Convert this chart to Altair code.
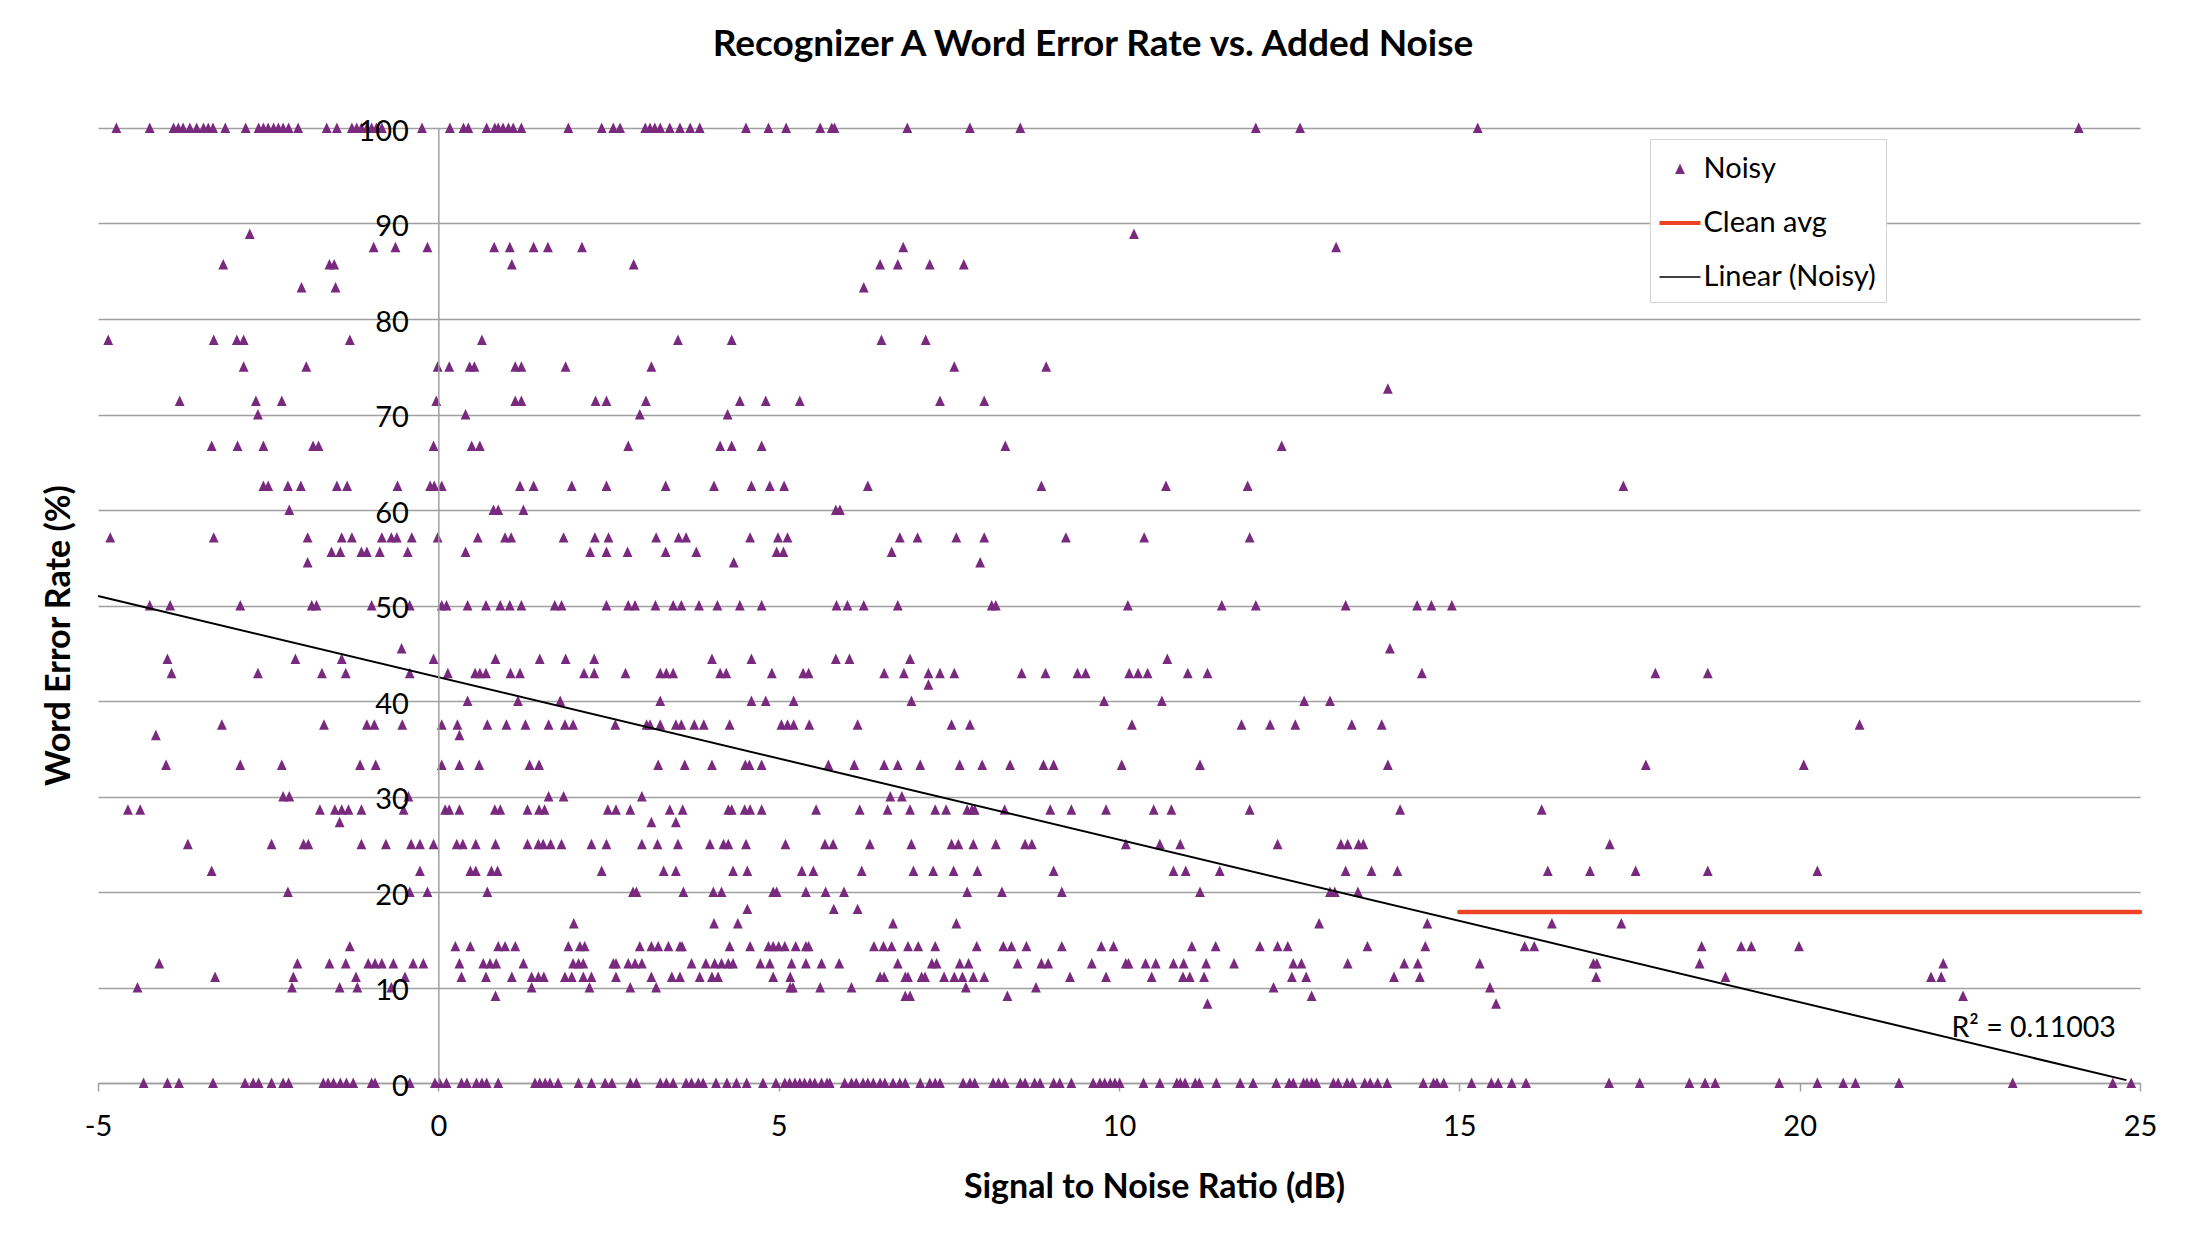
import altair as alt
import pandas as pd

# ---- Noisy data: SNR (dB) values grouped by word error rate level (%) ----
wer_levels = [100, 88.9, 87.5, 85.7, 83.3, 77.8, 75, 72.7, 71.4, 70, 66.7, 62.5, 60,
              57.1, 55.6, 54.5, 50, 45.5, 44.4, 42.9, 41.7, 40, 37.5, 36.4, 33.3, 30,
              28.6, 27.3, 25, 22.2, 20, 18.2, 16.7, 14.3, 12.5, 11.1, 10, 9.1, 8.3, 0]

snr_100 = [-4.73, -4.24, -3.89, -3.82, -3.75, -3.65, -3.55, -3.45, -3.38, -3.31, -3.13, -2.83,
           -2.64, -2.57, -2.50, -2.42, -2.35, -2.28, -2.20, -2.06, -1.64, -1.49, -1.27, -1.20,
           -1.13, -1.05, -0.98, -0.91, -0.83, -0.24, 0.17, 0.37, 0.44, 0.71, 0.83, 0.88, 0.95,
           1.03, 1.10, 1.22, 1.91, 2.40, 2.57, 2.67, 3.04, 3.11, 3.18, 3.26, 3.40, 3.55, 3.70,
           3.84, 4.52, 4.85, 5.11, 5.61, 5.78, 5.82, 6.89, 7.81, 8.55, 12.01, 12.66, 15.27, 24.10]
snr_88_9 = [-2.77, 10.22]
snr_87_5 = [-0.95, -0.63, -0.16, 0.82, 1.05, 1.40, 1.61, 2.11, 6.83, 13.19]
snr_85_7 = [-3.16, -1.60, -1.53, 1.08, 2.87, 6.49, 6.75, 7.22, 7.72]
snr_83_3 = [-2.01, -1.51, 6.25]
snr_77_8 = [-4.85, -3.30, -2.96, -2.86, -1.30, 0.64, 3.52, 4.31, 6.51, 7.16]
snr_75 = [-2.86, -1.94, -0.01, 0.16, 0.46, 0.53, 1.13, 1.22, 1.87, 3.13, 7.58, 8.93]
snr_72_7 = [13.95]
snr_71_4 = [-3.80, -2.68, -2.30, -0.03, 1.13, 1.22, 2.31, 2.47, 3.05, 4.43, 4.81, 5.31, 7.37, 8.02]
snr_70 = [-2.65, 0.40, 2.96, 4.25]
snr_66_7 = [-3.33, -2.95, -2.57, -1.84, -1.76, -0.07, 0.49, 0.61, 2.79, 4.14, 4.31, 4.75, 8.33, 12.39]
snr_62_5 = [-2.57, -2.50, -2.21, -2.02, -1.49, -1.34, -0.60, -0.12, -0.06, 0.05, 1.20, 1.40, 1.96,
            2.47, 3.34, 4.05, 4.60, 4.87, 5.08, 6.31, 8.86, 10.69, 11.89, 17.41]
snr_60 = [-2.19, 0.81, 0.88, 1.25, 5.84, 5.90]
snr_57_1 = [-4.82, -3.30, -1.92, -1.42, -1.27, -0.83, -0.69, -0.61, -0.39, -0.01, 0.58, 0.98, 1.07,
            1.84, 2.30, 2.50, 3.20, 3.53, 3.64, 4.58, 4.99, 5.13, 6.78, 7.04, 7.61, 8.02, 9.22,
            10.37, 11.92]
snr_55_6 = [-1.57, -1.44, -1.13, -1.05, -0.86, -0.45, 0.40, 2.23, 2.47, 2.78, 3.34, 3.79, 4.97, 5.07, 6.66]
snr_54_5 = [-1.92, 4.34, 7.96]
snr_50 = [-4.24, -3.94, -2.91, -1.86, -1.79, -0.98, -0.42, 0.05, 0.12, 0.43, 0.70, 0.91, 1.05, 1.22,
          1.71, 1.81, 2.47, 2.79, 2.89, 3.19, 3.45, 3.57, 3.83, 4.10, 4.43, 4.75, 5.85, 6.01, 6.25,
          6.75, 8.13, 8.19, 10.13, 11.51, 12.01, 13.33, 14.38, 14.59, 14.89]
snr_45_5 = [-0.54, 13.98]
snr_44_4 = [-3.98, -2.10, -1.42, -0.07, 0.84, 1.49, 1.87, 2.29, 4.02, 4.60, 5.84, 6.04, 6.93, 10.71]
snr_42_9 = [-3.92, -2.65, -1.71, -1.36, -0.42, 0.14, 0.54, 0.61, 0.70, 1.06, 1.20, 2.14, 2.29, 2.75,
            3.26, 3.35, 3.45, 4.14, 4.23, 4.90, 5.36, 5.44, 6.55, 6.84, 7.20, 7.37, 7.58, 8.57, 8.92,
            9.39, 9.51, 10.15, 10.28, 10.42, 11.01, 11.30, 14.45, 17.88, 18.65]
snr_41_7 = [7.20]
snr_40 = [0.43, 1.17, 1.79, 3.26, 4.60, 4.81, 5.22, 6.95, 9.78, 10.63, 12.72, 13.10]
snr_37_5 = [-3.18, -1.68, -1.05, -0.94, -0.53, 0.05, 0.28, 0.72, 1.00, 1.28, 1.62, 1.86, 1.98, 2.60,
            3.06, 3.11, 3.26, 3.49, 3.57, 3.76, 3.90, 4.28, 5.04, 5.13, 5.22, 5.45, 6.16, 7.54, 7.81,
            10.19, 11.80, 12.22, 12.59, 13.42, 13.86, 20.88]
snr_36_4 = [-4.15, 0.31]
snr_33_3 = [-4.00, -2.91, -2.30, -1.15, -0.92, 0.05, 0.31, 0.60, 1.34, 1.48, 3.23, 3.62, 4.02, 4.51,
            4.57, 4.75, 5.73, 6.11, 6.55, 6.75, 7.08, 7.66, 7.99, 8.40, 8.89, 9.04, 10.04, 11.19,
            13.95, 17.74, 20.06]
snr_30 = [-2.28, -2.19, -0.44, 1.62, 1.84, 2.99, 6.64, 6.81]
snr_28_6 = [-4.56, -4.38, -1.74, -1.52, -1.42, -1.32, -1.13, -0.51, 0.10, 0.16, 0.31, 0.83, 0.91,
            1.31, 1.48, 1.56, 2.49, 2.61, 2.82, 3.40, 3.59, 4.26, 4.31, 4.50, 4.58, 4.75, 5.55, 6.19,
            6.60, 6.93, 7.30, 7.46, 7.77, 7.84, 7.88, 8.32, 8.99, 9.30, 9.81, 10.51, 10.77, 11.92,
            14.13, 16.21]
snr_27_3 = [-1.45, 3.13, 3.49]
snr_25 = [-3.68, -2.45, -1.98, -1.91, -1.13, -0.77, -0.40, -0.27, -0.07, 0.27, 0.36, 0.55, 0.84, 1.31,
          1.47, 1.54, 1.65, 1.81, 2.25, 2.47, 2.99, 3.22, 3.52, 3.99, 4.19, 4.26, 4.52, 5.10, 5.68,
          5.80, 6.34, 6.95, 7.54, 7.64, 7.86, 8.19, 8.62, 8.72, 10.10, 10.60, 10.90, 12.33, 13.26,
          13.36, 13.52, 13.59, 17.21]
snr_22_2 = [-3.33, -0.27, 0.47, 0.55, 0.78, 0.87, 2.40, 3.31, 3.49, 4.33, 4.54, 5.34, 5.51, 6.22,
            6.98, 7.27, 7.57, 7.92, 9.04, 10.80, 10.98, 11.48, 13.33, 13.71, 14.09, 16.30, 16.92,
            17.59, 18.65, 20.26]
snr_20 = [-2.21, -0.42, -0.16, 0.72, 2.86, 2.91, 3.60, 4.04, 4.16, 4.92, 4.97, 5.40, 5.69, 5.96, 7.77,
          8.28, 9.16, 11.19, 13.10, 13.17, 13.51]
snr_18_2 = [4.54, 5.81, 6.16]
snr_16_7 = [1.99, 4.05, 4.40, 6.68, 7.61, 12.94, 14.53, 16.36, 17.38]
snr_14_3 = [-1.30, 0.25, 0.47, 0.88, 0.98, 1.13, 1.91, 2.08, 2.15, 2.96, 3.13, 3.23, 3.38, 3.55, 3.58,
            4.28, 4.58, 4.85, 4.92, 5.00, 5.09, 5.25, 5.40, 5.44, 6.40, 6.54, 6.66, 6.90, 7.05, 7.30,
            7.91, 8.30, 8.42, 8.64, 9.16, 9.74, 9.92, 11.07, 11.42, 12.07, 12.33, 12.48, 13.65, 14.50,
            15.96, 16.10, 18.56, 19.14, 19.29, 19.99]
snr_12_5 = [-4.10, -2.07, -1.60, -1.36, -1.03, -0.93, -0.83, -0.66, -0.37, -0.22, 0.31, 0.66, 0.76,
            0.85, 1.25, 1.98, 2.06, 2.13, 2.57, 2.61, 2.79, 2.89, 2.99, 3.72, 3.93, 4.06, 4.16, 4.26,
            4.33, 4.73, 4.87, 5.19, 5.40, 5.63, 5.89, 6.75, 7.25, 7.32, 7.66, 7.79, 8.51, 8.86, 8.96,
            9.60, 10.10, 10.14, 10.39, 10.54, 10.80, 10.95, 11.28, 11.69, 12.56, 12.68, 13.36, 14.19,
            14.39, 15.30, 16.97, 17.02, 18.53, 22.11]
snr_11_1 = [-3.28, -2.13, -1.21, -0.49, 0.34, 0.70, 1.08, 1.37, 1.47, 1.55, 1.86, 1.96, 2.13, 2.25,
            2.61, 3.13, 3.43, 3.55, 3.84, 4.02, 4.11, 4.92, 5.17, 6.49, 6.55, 6.86, 6.90, 7.10, 7.15,
            7.43, 7.58, 7.70, 7.86, 8.02, 9.28, 9.81, 10.48, 10.94, 11.04, 11.25, 12.54, 12.75, 14.04,
            14.42, 17.01, 18.91, 21.93, 22.08]
snr_10 = [-4.42, -2.15, -1.45, -1.19, -0.69, 1.37, 2.22, 2.82, 3.20, 5.17, 5.21, 5.61, 6.07, 7.75,
          8.78, 12.27, 15.45]
snr_9_1 = [0.84, 6.86, 6.93, 8.36, 12.83, 22.40]
snr_8_3 = [11.30, 15.54]
snr_0 = [-4.33, -3.98, -3.81, -3.31, -2.84, -2.72, -2.64, -2.45, -2.28, -2.20, -1.69, -1.62, -1.54,
         -1.44, -1.35, -1.25, -0.98, -0.93, -0.42, -0.05, 0.02, 0.12, 0.34, 0.42, 0.56, 0.64, 0.71,
         0.88, 1.42, 1.49, 1.57, 1.64, 1.76, 2.06, 2.25, 2.45, 2.55, 2.82, 2.91, 3.26, 3.35, 3.45,
         3.64, 3.72, 3.82, 3.89, 4.08, 4.24, 4.38, 4.53, 4.77, 4.96, 5.09, 5.16, 5.24, 5.31, 5.38,
         5.46, 5.53, 5.63, 5.71, 5.75, 5.97, 6.07, 6.14, 6.24, 6.31, 6.39, 6.49, 6.56, 6.68, 6.78,
         6.86, 7.08, 7.22, 7.30, 7.37, 7.71, 7.81, 7.88, 8.15, 8.23, 8.32, 8.55, 8.62, 8.76, 8.84,
         9.04, 9.13, 9.30, 9.62, 9.72, 9.79, 9.87, 9.94, 10.01, 10.36, 10.60, 10.85, 10.90, 10.97,
         11.12, 11.18, 11.43, 11.78, 11.97, 12.31, 12.50, 12.56, 12.71, 12.76, 12.83, 12.90, 13.15,
         13.22, 13.35, 13.43, 13.61, 13.69, 13.80, 13.94, 14.47, 14.62, 14.67, 14.77, 15.18, 15.47,
         15.57, 15.77, 15.98, 17.20, 17.65, 18.38, 18.61, 18.76, 19.70, 20.26, 20.64, 20.82, 21.46,
         23.13, 24.60, 24.87]

snr_by_level = [snr_100, snr_88_9, snr_87_5, snr_85_7, snr_83_3, snr_77_8, snr_75, snr_72_7,
                snr_71_4, snr_70, snr_66_7, snr_62_5, snr_60, snr_57_1, snr_55_6, snr_54_5, snr_50,
                snr_45_5, snr_44_4, snr_42_9, snr_41_7, snr_40, snr_37_5, snr_36_4, snr_33_3, snr_30,
                snr_28_6, snr_27_3, snr_25, snr_22_2, snr_20, snr_18_2, snr_16_7, snr_14_3, snr_12_5,
                snr_11_1, snr_10, snr_9_1, snr_8_3, snr_0]

# ---- Clean average and linear trend ----
clean_x = [15, 25]
clean_y = [17.9, 17.9]
trend_x = [-5, 24.8]
trend_y = [51.0, 0.3]
r2_label = "R² = 0.11003"
r2_pos = [22.23, 5.8]

series_names = ["Noisy", "Clean avg", "Linear (Noisy)"]
series_colors = ["#792A7E", "#EE4326", "#000000"]
# legend / marker symbols (unit-square paths): small triangle, thick bar, thin bar
series_shapes = ["M0,-0.27L0.24,0.24L-0.24,0.24Z",
                 "M-1,-0.1H1V0.1H-1Z",
                 "M-1,-0.04H1V0.04H-1Z"]

x_ticks = [-5, 0, 5, 10, 15, 20, 25]
y_ticks = [0, 10, 20, 30, 40, 50, 60, 70, 80, 90, 100]

noisy_df = pd.DataFrame(
    [{"snr": x, "wer": lvl, "series": "Noisy"} for lvl, xs in zip(wer_levels, snr_by_level) for x in xs]
)
clean_df = pd.DataFrame({"snr": clean_x, "wer": clean_y, "series": "Clean avg"})
trend_df = pd.DataFrame({"snr": trend_x, "wer": trend_y, "series": "Linear (Noisy)"})
r2_df = pd.DataFrame({"snr": [r2_pos[0]], "wer": [r2_pos[1]], "label": [r2_label]})

W, H = 2042, 955
FONT = "Lato"
GRID = "#A0A0A0"
x_min, x_max = -5, 25
SYM = 1681

x_scale = alt.Scale(domain=[x_min, x_max], nice=False, zero=False)
y_scale = alt.Scale(domain=[0, 100], nice=False)

legend = alt.Legend(title=None, orient="none", legendX=1552, legendY=11,
                    fillColor="white", strokeColor="#D4D4D4", padding=9.5,
                    symbolSize=SYM, symbolStrokeWidth=0, labelFont=FONT, labelFontSize=29,
                    labelColor="black", labelOffset=3, rowPadding=18, labelLimit=500)

color_enc = alt.Color("series:N", scale=alt.Scale(domain=series_names, range=series_colors),
                      legend=legend)
shape_enc = alt.Shape("series:N", scale=alt.Scale(domain=series_names, range=series_shapes),
                      legend=legend)

x_axis = alt.Axis(values=x_ticks, grid=False, domainColor=GRID, domainWidth=1.5,
                  tickColor=GRID, tickWidth=1.5, tickSize=8, labelFont=FONT, labelFontSize=29,
                  labelColor="black", labelPadding=21, labelFlush=False,
                  labelExpr="datum.value < 0 ? '-' + abs(datum.value) : '' + datum.value",
                  title="Signal to Noise Ratio (dB)", titleFont=FONT, titleFontSize=34,
                  titleFontWeight="bold", titleColor="black", titleX=1056, titleY=104,
                  titleBaseline="middle", titleAlign="center")

y_grid_axis = alt.Axis(orient="right", values=y_ticks, grid=True, gridColor=GRID, gridWidth=1.5,
                       labels=False, ticks=False, domain=False, title=None)

y_label_axis = alt.Axis(orient="left", offset=-W * (0 - x_min) / (x_max - x_min), values=y_ticks,
                        grid=False, ticks=False, tickSize=0, domain=True, domainColor=GRID,
                        domainWidth=1.5, labelFont=FONT, labelFontSize=29, labelColor="black",
                        labelPadding=30, labelOffset=3,
                        title="Word Error Rate (%)", titleFont=FONT, titleFontSize=34,
                        titleFontWeight="bold", titleColor="black", titleAngle=270,
                        titleX=-379, titleY=507, titleBaseline="middle", titleAlign="center",
                        zindex=1)

points = alt.Chart(noisy_df).mark_point(filled=True, size=SYM, opacity=1, strokeWidth=0).encode(
    x=alt.X("snr:Q", scale=x_scale, axis=x_axis),
    y=alt.Y("wer:Q", scale=y_scale, axis=y_grid_axis),
    color=color_enc,
    shape=shape_enc,
)

clean = alt.Chart(clean_df).mark_line(strokeWidth=4.5, strokeCap="round").encode(
    x=alt.X("snr:Q", scale=x_scale),
    y=alt.Y("wer:Q", scale=y_scale, axis=None),
    color=alt.Color("series:N", legend=legend),
)

trend = alt.Chart(trend_df).mark_line(strokeWidth=2).encode(
    x=alt.X("snr:Q", scale=x_scale),
    y=alt.Y("wer:Q", scale=y_scale, axis=y_label_axis),
    color=alt.Color("series:N", legend=legend),
)

r2 = alt.Chart(r2_df).mark_text(align="left", baseline="middle", font=FONT, fontSize=28.5,
                                color="black").encode(
    x=alt.X("snr:Q", scale=x_scale),
    y=alt.Y("wer:Q", scale=y_scale, axis=None),
    text="label:N",
)

chart = alt.layer(points, clean, trend, r2).resolve_axis(y="independent").properties(
    width=W, height=H,
    background="white",
    title=alt.TitleParams("Recognizer A Word Error Rate vs. Added Noise", font=FONT, fontSize=37,
                          fontWeight="bold", color="black", anchor="middle", dx=-26,
                          baseline="alphabetic", offset=24),
    autosize=alt.AutoSizeParams(type="none"),
    padding={"left": 90, "top": 120, "right": 40, "bottom": 150},
).configure_view(stroke="transparent", strokeWidth=0)

chart.save("out.html", embed_options={"renderer": "svg", "actions": False})
